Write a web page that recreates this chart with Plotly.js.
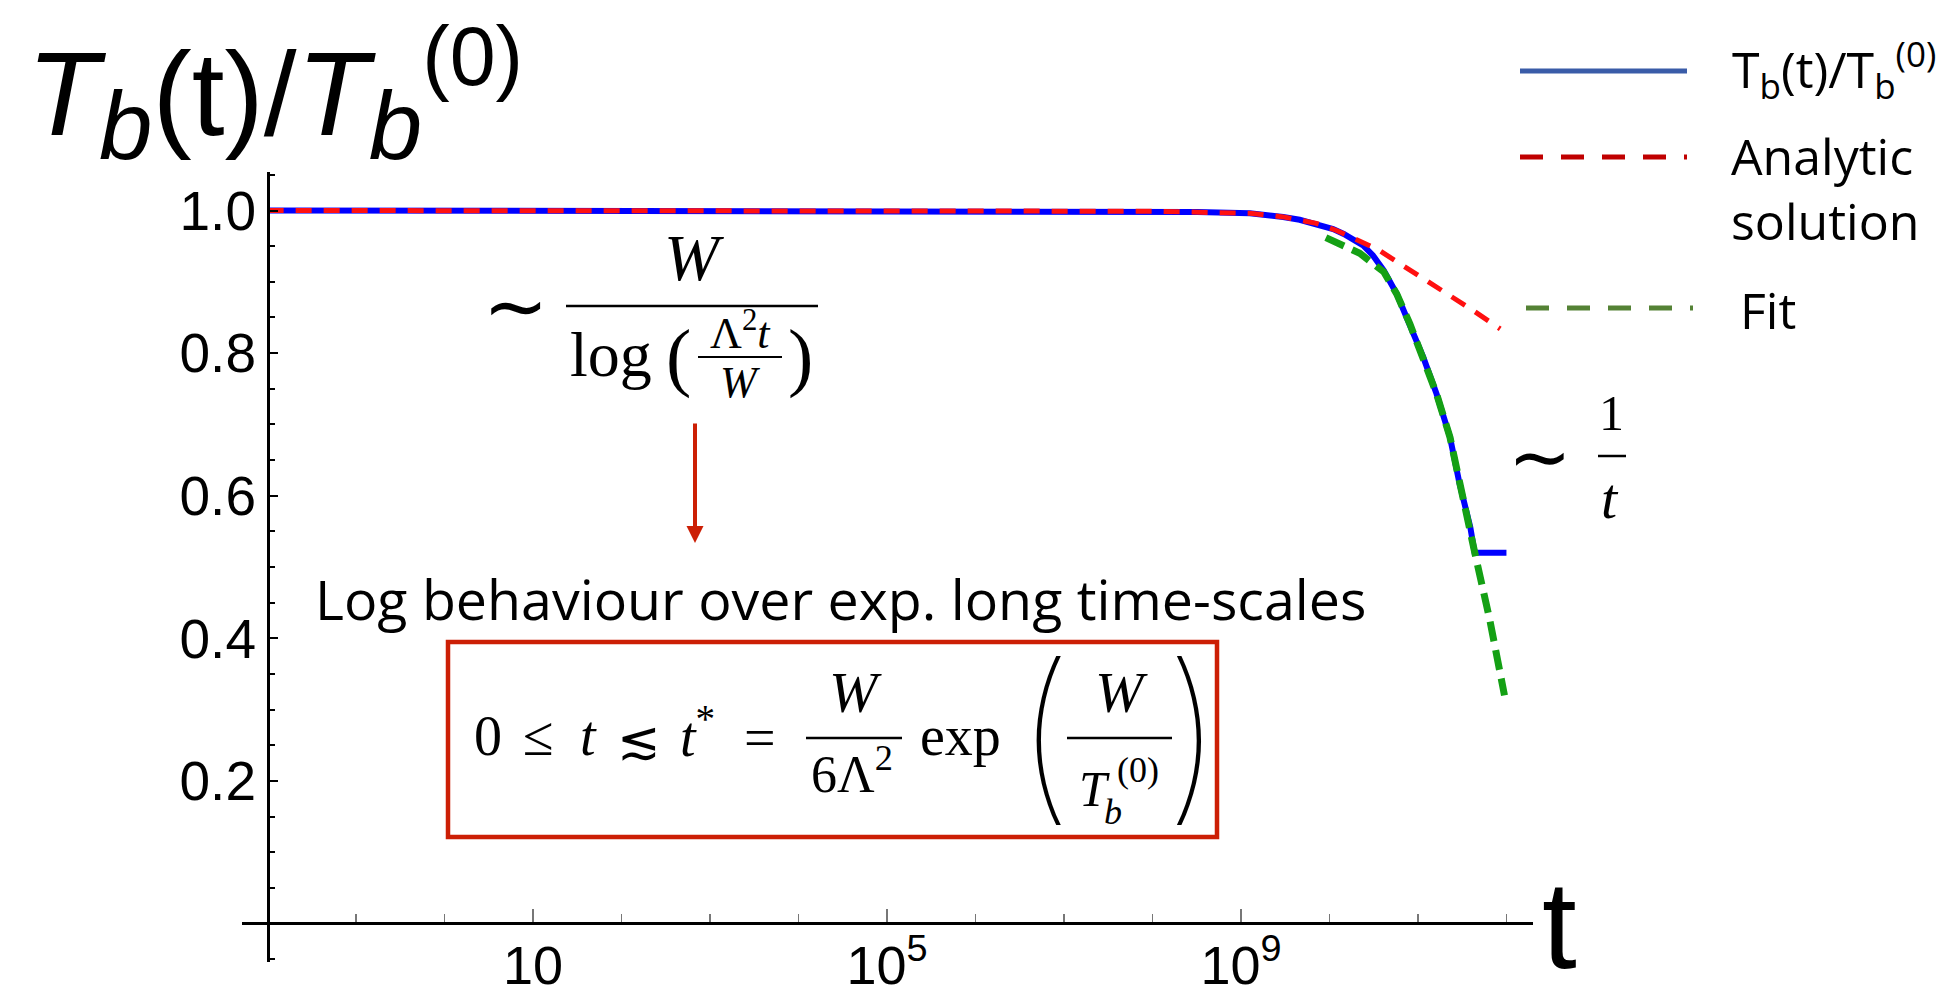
<!DOCTYPE html>
<html>
<head>
<meta charset="utf-8">
<script src="https://cdn.plot.ly/plotly-3.0.1.min.js"></script>
<style>
  html, body { margin: 0; padding: 0; background: #fff; }
  #chart { width: 1946px; height: 994px; }
</style>
</head>
<body>
<div id="chart"></div>
<script>
// Bath temperature T_b(t)/T_b^(0) against time t (log scale)
const tSim = [1e-2, 1e2, 1e6, 1e8, 3.2e8, 1.26e9, 1.95e9, 3.0e9, 4.6e9, 7.1e9, 1.1e10, 1.45e10, 1.8e10,
              2.4e10, 3.1e10, 4.1e10, 5.75e10, 8.1e10, 1.15e11, 1.62e11, 2.3e11, 2.95e11, 3.9e11, 4.37e11, 1.0e12];
const ySim = [1.0, 1.0, 1.0, 0.999, 0.998, 0.996, 0.994, 0.991, 0.987, 0.981, 0.974, 0.967, 0.960,
              0.951, 0.937, 0.916, 0.883, 0.841, 0.794, 0.743, 0.682, 0.617, 0.556, 0.520, 0.520];

// Analytic solution ~ W / log(Lambda^2 t / W)
const tAnalytic = [1e-2, 1e2, 1e6, 1e8, 1.26e9, 3.0e9, 7.1e9, 1.2e10, 3.55e10, 6.6e10, 1.26e11, 2.3e11, 4.17e11, 8.5e11];
const yAnalytic = [1.0, 1.0, 1.0, 0.999, 0.996, 0.991, 0.982, 0.972, 0.945, 0.924, 0.902, 0.881, 0.860, 0.834];

// Late-time fit ~ 1/t
const tFit = [9.1e9, 2.2e10, 4.1e10, 5.75e10, 8.1e10, 1.15e11, 1.62e11, 2.3e11, 2.95e11, 3.9e11, 4.37e11, 6.5e11, 9.5e11];
const yFit = [0.962, 0.940, 0.914, 0.883, 0.841, 0.794, 0.743, 0.682, 0.617, 0.556, 0.521, 0.425, 0.320];

const yTickVals = [0.2, 0.4, 0.6, 0.8, 1.0];
const yTickText = ['0.2', '0.4', '0.6', '0.8', '1.0'];
const xTickVals = [10, 1e5, 1e9];
const xTickText = ['10', '10<sup>5</sup>', '10<sup>9</sup>'];
const xMinorVals = [1e-1, 1, 1e2, 1e3, 1e4, 1e6, 1e7, 1e8, 1e10, 1e11, 1e12];

// page frame (px) and helpers to place overlay text in paper units
const W = 1946, H = 994;
const M = { l: 242, r: 413, t: 172, b: 32 };
const PW = W - M.l - M.r, PH = H - M.t - M.b;
const px = X => (X - M.l) / PW;
const py = Y => (H - M.b - Y) / PH;

const SANS = 'Liberation Sans, Arial, sans-serif';
const SERIF = 'Liberation Serif, Times New Roman, serif';
const BODY = 'Open Sans, Noto Sans, sans-serif';
const THIN = 'Inter, Noto Sans, sans-serif';
const BOXRED = '#cc1f05';

function txt(text, X, Y, size, family, xanchor, extra) {
  return Object.assign({
    text: text, xref: 'paper', yref: 'paper', x: px(X), y: py(Y),
    xanchor: xanchor || 'center', yanchor: 'middle', showarrow: false,
    font: { family: family, size: size, color: '#000' }, align: 'left'
  }, extra || {});
}
function hline(X0, X1, Y, color, width, dash) {
  return { type: 'line', xref: 'paper', yref: 'paper', x0: px(X0), x1: px(X1), y0: py(Y), y1: py(Y),
           line: { color: color, width: width, dash: dash || 'solid' } };
}

const traces = [
  { x: tSim, y: ySim, type: 'scatter', mode: 'lines', name: 'T_b(t)/T_b^(0)',
    line: { color: '#0000ff', width: 6 }, showlegend: false, hoverinfo: 'skip' },
  { x: tFit, y: yFit, type: 'scatter', mode: 'lines', name: 'Fit',
    line: { color: '#14a014', width: 7, dash: '20px,9px' }, showlegend: false, hoverinfo: 'skip' },
  { x: tAnalytic, y: yAnalytic, type: 'scatter', mode: 'lines', name: 'Analytic solution',
    line: { color: '#ff1010', width: 5, dash: '16px,12px' }, showlegend: false, hoverinfo: 'skip' }
];

const bigParen = { font: { family: THIN, size: 186, color: '#000', weight: 100 } };
const subB = '<sub><i><span style="font-size:96px">b</span></i></sub>';

const annotations = [
  // axis names
  txt('<i>T</i>' + subB + '(t)/<i>T</i>' + subB + '<sup>(0)</sup>', 25, 8, 118, SANS, 'left', { yanchor: 'top' }),
  txt('t', 1559, 924, 125, SANS, 'center'),

  // legend
  txt('T<sub>b</sub>(t)/T<sub>b</sub><sup>(0)</sup>', 1730, 70, 50, BODY, 'left'),
  txt('Analytic<br>solution', 1729, 188, 50, BODY, 'left'),
  txt('Fit', 1738, 310, 50, BODY, 'left'),

  // ~ W / log(Lambda^2 t / W)
  txt('\u223C', 515, 306, 78, SERIF),
  txt('<i>W</i>', 694, 257, 66, SERIF),
  txt('log', 568, 354, 64, SERIF, 'left'),
  txt('(', 678, 356, 76, SERIF),
  txt('\u039B<sup>2</sup><i>t</i>', 740, 330, 44, SERIF),
  txt('<i>W</i>', 740, 382, 44, SERIF),
  txt(')', 800, 356, 76, SERIF),

  // arrow down to the caption
  { text: '', xref: 'paper', yref: 'paper', x: px(695), y: py(543), ax: 0, ay: -121,
    showarrow: true, arrowhead: 2, arrowsize: 0.85, arrowwidth: 4, arrowcolor: BOXRED, standoff: 0 },

  txt('Log behaviour over exp. long time-scales', 840, 598, 55.5, BODY),

  // 0 <= t <~ t* = W/(6 Lambda^2) exp(W / T_b^(0))
  txt('0', 488, 736, 56, SERIF),
  txt('\u2264', 538, 736, 56, SERIF),
  txt('<i>t</i>', 588, 736, 56, SERIF),
  txt('\u2272', 639, 740, 52, 'DejaVu Serif, serif'),
  txt('<i>t</i><sup>*</sup>', 697, 732, 56, SERIF),
  txt('=', 760, 738, 56, SERIF),
  txt('<i>W</i>', 855, 692, 58, SERIF),
  txt('6\u039B<sup>2</sup>', 852, 770, 52, SERIF),
  txt('exp', 960, 736, 56, SERIF),
  txt('(', 1044, 732, 186, THIN, 'center', bigParen),
  txt('<i>W</i>', 1121, 692, 58, SERIF),
  txt('<i>T</i>', 1094, 789, 50, SERIF),
  txt('(0)', 1138, 770, 36, SERIF),
  txt('<i>b</i>', 1113, 812, 36, SERIF),
  txt(')', 1193, 732, 186, THIN, 'center', bigParen),

  // ~ 1/t
  txt('\u223C', 1540, 457, 76, SERIF),
  txt('1', 1611, 413, 50, SERIF),
  txt('<i>t</i>', 1610, 498, 58, SERIF)
];

const shapes = [
  // legend samples
  hline(1520, 1687, 71, '#3a5ca8', 5),
  hline(1520, 1687, 157, '#c00000', 5, '23px,18px'),
  hline(1526, 1693, 308, '#548235', 5, '23px,18px'),
  // fraction bars
  hline(566, 818, 306, '#000', 2.5),
  hline(698, 782, 357, '#000', 2),
  hline(806, 902, 738, '#000', 2.5),
  hline(1067, 1172, 738, '#000', 2.5),
  hline(1598, 1626, 456, '#000', 2.5),
  // framed statement
  { type: 'rect', xref: 'paper', yref: 'paper', x0: px(448), x1: px(1217), y0: py(642), y1: py(837),
    line: { color: BOXRED, width: 4.5 }, fillcolor: 'rgba(0,0,0,0)' }
];

const layout = {
  width: W, height: H,
  margin: M,
  paper_bgcolor: '#fff', plot_bgcolor: '#fff',
  showlegend: false,
  xaxis: {
    type: 'log', range: [-2.29, 12.30], anchor: 'free', position: py(923),
    showline: true, linecolor: '#000', linewidth: 3, showgrid: false, zeroline: false,
    ticks: 'inside', ticklen: 13, tickwidth: 1.5, tickcolor: '#777',
    tickmode: 'array', tickvals: xTickVals, ticktext: xTickText,
    tickfont: { family: SANS, size: 54, color: '#000' }, ticklabelstandoff: -6,
    minor: { tickmode: 'array', tickvals: xMinorVals, ticks: 'inside', ticklen: 8, tickwidth: 1.5, tickcolor: '#777' },
    automargin: false, fixedrange: true
  },
  yaxis: {
    range: [-0.054, 1.054], anchor: 'free', position: px(268),
    showline: true, linecolor: '#000', linewidth: 3, showgrid: false, zeroline: false,
    ticks: 'inside', ticklen: 8, tickwidth: 2, tickcolor: '#000',
    tickmode: 'array', tickvals: yTickVals, ticktext: yTickText,
    tickfont: { family: SANS, size: 55, color: '#000' },
    minor: { tickmode: 'linear', tick0: 0, dtick: 0.05, ticks: 'inside', ticklen: 5, tickwidth: 2, tickcolor: '#000' },
    automargin: false, fixedrange: true
  },
  annotations: annotations,
  shapes: shapes
};

Plotly.newPlot('chart', traces, layout, { staticPlot: true, displayModeBar: false });
</script>
</body>
</html>
